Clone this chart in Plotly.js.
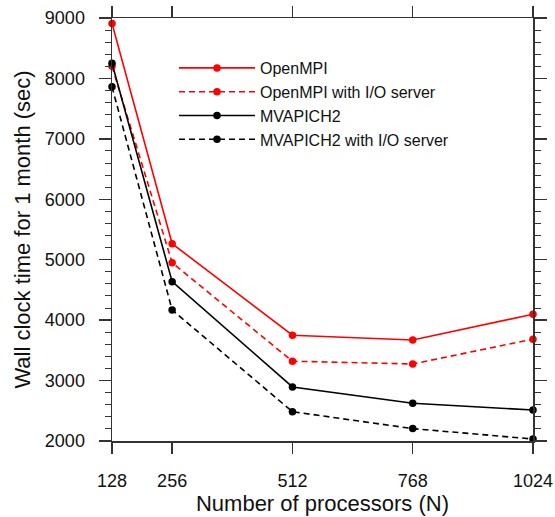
<!DOCTYPE html>
<html>
<head>
<meta charset="utf-8">
<script src="https://cdn.plot.ly/plotly-3.0.1.min.js"></script>
<style>html,body{margin:0;padding:0;background:#fff;}#chart{width:555px;height:517px;}</style>
</head>
<body>
<div id="chart"></div>
<script>
const processors = [128, 256, 512, 768, 1024];
const openmpi = [8910, 5265, 3750, 3672, 4097];
const openmpiIO = [8200, 4950, 3320, 3275, 3685];
const mvapich2 = [8250, 4637, 2895, 2625, 2513];
const mvapich2IO = [7862, 4168, 2485, 2205, 2033];
const seriesNames = ["OpenMPI", "OpenMPI with I/O server", "MVAPICH2", "MVAPICH2 with I/O server"];
const xTicks = [128, 256, 512, 768, 1024];
const yTicks = [2000, 3000, 4000, 5000, 6000, 7000, 8000, 9000];

const FONT = "Liberation Sans, Arial, Helvetica, sans-serif";
function mk(y, name, color, dash) {
  return {
    x: processors, y: y, name: name, type: "scatter", mode: "lines+markers",
    line: {color: color, width: 1.6, dash: dash},
    marker: {color: color, size: 7.5, symbol: "circle"},
    cliponaxis: false
  };
}
const data = [
  mk(openmpi, seriesNames[0], "#ff0000", "solid"),
  mk(openmpiIO, seriesNames[1], "#ff0000", "6px,4px"),
  mk(mvapich2, seriesNames[2], "#000000", "solid"),
  mk(mvapich2IO, seriesNames[3], "#000000", "6px,4px")
];
const axisCommon = {
  showline: true, linecolor: "#333", linewidth: 1.5, mirror: "ticks",
  ticks: "outside", tickcolor: "#333", tickwidth: 1.3, ticklen: 11,
  showgrid: false, zeroline: false,
  tickfont: {family: FONT, size: 18, color: "#111"}
};
const layout = {
  width: 555, height: 517,
  margin: {l: 112, r: 22, t: 18, b: 76},
  paper_bgcolor: "#fff", plot_bgcolor: "#fff",
  font: {family: FONT, color: "#111"},
  xaxis: Object.assign({}, axisCommon, {
    range: [128, 1024], tickmode: "array", tickvals: xTicks, ticktext: xTicks.map(String),
    ticklabelstandoff: 12,
    title: {text: "Number of processors (N)", font: {family: FONT, size: 22, color: "#111"}, standoff: 5}
  }),
  yaxis: Object.assign({}, axisCommon, {
    range: [2000, 9000], tickmode: "array", tickvals: yTicks, ticktext: yTicks.map(String),
    ticklen: 12, ticklabelstandoff: 10,
    minor: {dtick: 200, ticks: "outside", ticklen: 6, tickcolor: "#333", tickwidth: 1, showgrid: false},
    title: {text: "Wall clock time for 1 month (sec)", font: {family: FONT, size: 22, color: "#111"}, standoff: 8}
  }),
  showlegend: true,
  legend: {
    x: (174 - 112) / 421, y: (441 - 51) / 423, xanchor: "left", yanchor: "top",
    bgcolor: "rgba(0,0,0,0)", borderwidth: 0, itemwidth: 76,
    font: {family: FONT, size: 16, color: "#111"},
    traceorder: "normal"
  }
};
Plotly.newPlot("chart", data, layout, {displayModeBar: false, staticPlot: true});
</script>
</body>
</html>
